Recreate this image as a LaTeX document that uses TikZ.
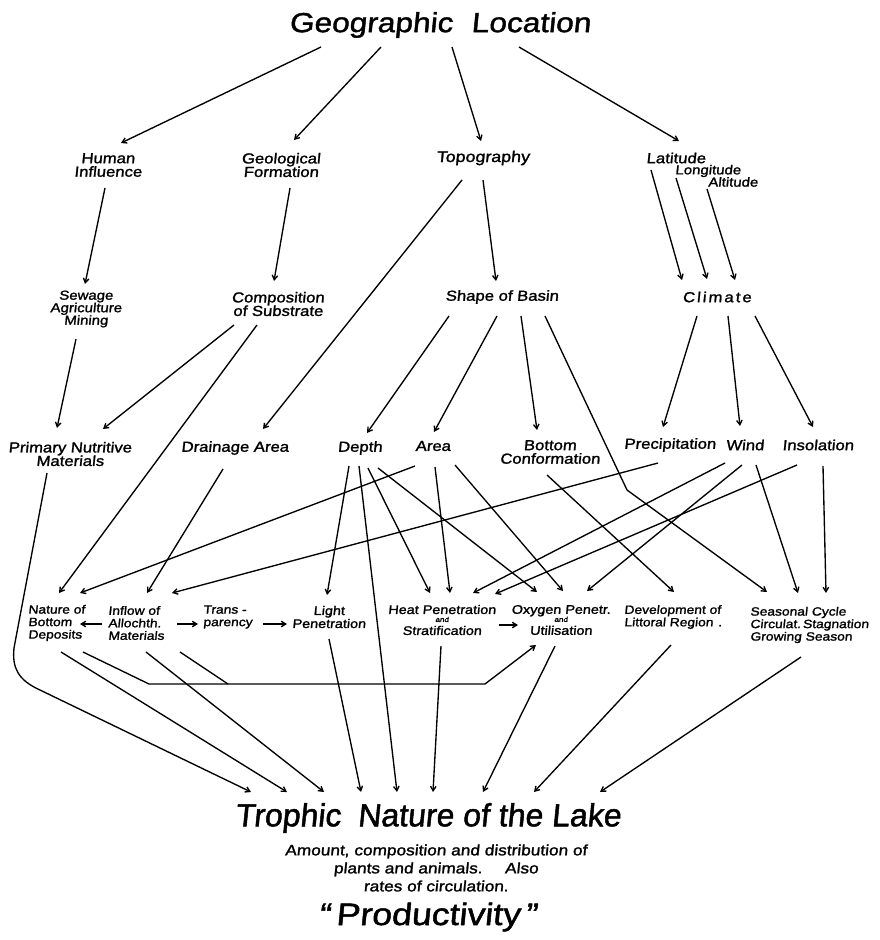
\documentclass[tikz,border=0pt]{standalone}
\usepackage{fontspec}
\setmainfont{Liberation Sans}
\newfontfamily\hand[FakeStretch=1.15,FakeSlant=0.1,FakeBold=1.5]{Liberation Sans}
\newfontfamily\handn[FakeSlant=0.1,FakeBold=1.5]{Liberation Sans}
\newfontfamily\handsp[FakeStretch=1.15,FakeSlant=0.1,FakeBold=1.5,LetterSpace=14]{Liberation Sans}
\usetikzlibrary{arrows.meta}
\lineskiplimit=-20pt
\begin{document}
\begin{tikzpicture}[x=1pt,y=-1pt,
  lbl/.style={font=\hand\fontsize{14.5}{13.5}\selectfont, inner sep=0pt, align=center},
  lbls/.style={font=\hand\fontsize{13}{12.5}\selectfont, inner sep=0pt, align=center},
  lblr/.style={font=\hand\fontsize{12.5}{13}\selectfont, inner sep=0pt, align=center},
  sm/.style={font=\hand\fontsize{12}{12.5}\selectfont, inner sep=0pt, align=left, anchor=west},
  arr/.style={-{Straight Barb[length=4.5pt,width=5.5pt]}, line width=1.35pt},
  ln/.style={line width=1.35pt}]
\useasboundingbox[fill=white] (0,0) rectangle (879,940);

% ---------- nodes ----------
\node[font=\hand\fontsize{27.5}{30}\selectfont, inner sep=0pt] (geo) at (440,25) {Geographic\hspace{0.35em} Location};

\node[lbl] (human) at (108,165) {Human\\Influence};
\node[lbl] (geol) at (281,165) {Geological\\Formation};
\node[lbl, font=\hand\fontsize{15.5}{13.5}\selectfont] (topo) at (483,158) {Topography};
\node[lbl] (lat) at (676,158) {Latitude};
\node[lbls] (long) at (708,171) {Longitude};
\node[lbls] (alt) at (733,182) {Altitude};

\node[lbls] (sewage) at (86,309) {Sewage\\Agriculture\\Mining};
\node[lbl] (comp) at (278,304) {Composition\\of Substrate};
\node[lbl] (shape) at (502,297) {Shape of Basin};
\node[lbl, font=\handsp\fontsize{14.5}{13.5}\selectfont] (climate) at (717,297) {Climate};

\node[lbl] (primary) at (70,454) {Primary Nutritive\\Materials};
\node[lbl] (drain) at (235,448) {Drainage Area};
\node[lbl] (depth) at (360,448) {Depth};
\node[lbl] (area) at (433,446) {Area};
\node[lbl] (bottomc) at (550,452) {Bottom\\Conformation};
\node[lbl] (precip) at (670,445) {Precipitation};
\node[lbl] (wind) at (745,445) {Wind};
\node[lbl] (insol) at (818,445) {Insolation};

\node[sm] (nature) at (28,623) {Nature of\\Bottom\\Deposits};
\node[sm] (inflow) at (108,623) {Inflow of\\Allochth.\\Materials};
\node[sm] (trans) at (203,617) {Trans -\\parency};
\node[lblr] (light) at (329,617) {Light\\Penetration};
\node[lblr] (heat) at (442,620) {Heat Penetration\\[-5pt]{\fontsize{7}{7}\selectfont and}\\Stratification};
\node[lblr] (oxy) at (561,620) {Oxygen Penetr.\\[-5pt]{\fontsize{7}{7}\selectfont and}\\Utilisation};
\node[sm] (devel) at (624,617) {Development of\\Littoral Region\hspace{5pt}.};
\node[sm] (seasonal) at (750,625) {Seasonal Cycle\\Circulat.\,Stagnation\\Growing Season};

\node[font=\handn\fontsize{32}{34}\selectfont, inner sep=0pt] (trophic) at (428,818) {Trophic\hspace{0.25em} Nature of the Lake};
\node[font=\hand\fontsize{15}{18}\selectfont, inner sep=0pt, align=center] (amount) at (436,868) {Amount, composition and distribution of\\plants and animals.\hspace{1.5em}Also\\rates of circulation.};
\node[font=\hand\fontsize{31}{33}\selectfont, inner sep=0pt] (prod) at (428,917) {“\,Productivity\,”};

% helper coordinates
\coordinate (busL) at (149,684);
\coordinate (busM) at (228,684);
\coordinate (busR) at (485,684);
\coordinate (pb1) at (14,648);
\coordinate (pb2) at (40,690);
\coordinate (kink) at (627,490);

% ---------- connectors ----------
% from Geographic Location
\draw[arr] ([shift={(-119,22)}]geo.center) -- ([shift={(13,-22)}]human.center);
\draw[arr] ([shift={(-59,22)}]geo.center) -- ([shift={(13,-25)}]geol.center);
\draw[arr] ([shift={(12,22)}]geo.center) -- ([shift={(-2,-17)}]topo.center);
\draw[arr] ([shift={(79,22)}]geo.center) -- ([shift={(3,-17)}]lat.center);

% row 2 -> row 3/4
\draw[arr] ([shift={(-3,23)}]human.center) -- ([shift={(-1,-25)}]sewage.center);
\draw[arr] ([shift={(9,23)}]geol.center) -- ([shift={(-4,-23)}]comp.center);
\draw[arr] ([shift={(-21,22)}]topo.center) -- ([shift={(28,-19)}]drain.center);
\draw[arr] ([shift={(0,22)}]topo.center) -- ([shift={(-6,-16)}]shape.center);
\draw[arr] ([shift={(-25,12)}]lat.center) -- ([shift={(-35,-17)}]climate.center);
\draw[arr] ([shift={(-32,7)}]long.center) -- ([shift={(-10,-18)}]climate.center);
\draw[arr] ([shift={(-26,7)}]alt.center) -- ([shift={(18,-17)}]climate.center);

% row 3 -> row 4/5
\draw[arr] ([shift={(-10,30)}]sewage.center) -- ([shift={(-13,-26)}]primary.center);
\draw[arr] ([shift={(-44,21)}]comp.center) -- ([shift={(33,-25)}]primary.center);
\draw[arr] ([shift={(-21,21)}]comp.center) -- ([shift={(31,-30)}]nature.west);
\draw[arr] ([shift={(-53,19)}]shape.center) -- ([shift={(7,-15)}]depth.center);
\draw[arr] ([shift={(-5,19)}]shape.center) -- ([shift={(1,-14)}]area.center);
\draw[arr] ([shift={(19,19)}]shape.center) -- ([shift={(-13,-22)}]bottomc.center);
\draw[arr] ([shift={(43,19)}]shape.center) -- (kink) -- ([shift={(17,-33)}]seasonal.west);
\draw[arr] ([shift={(-20,19)}]climate.center) -- ([shift={(-7,-18)}]precip.center);
\draw[arr] ([shift={(11,19)}]climate.center) -- ([shift={(-5,-19)}]wind.center);
\draw[arr] ([shift={(38,19)}]climate.center) -- ([shift={(-5,-18)}]insol.center);

% row 4 -> row 5
\draw[arr] ([shift={(-18,20)}]area.center) -- ([shift={(52,-30)}]nature.west);
\draw[arr] ([shift={(-12,21)}]drain.center) -- ([shift={(39,-30)}]inflow.west);
\draw[arr] ([shift={(-12,18)}]precip.center) -- ([shift={(64,-30)}]inflow.west);
\draw[arr] ([shift={(-11,18)}]depth.center) -- ([shift={(-2,-22)}]light.center);
\draw[arr] ([shift={(8,20)}]depth.center) -- ([shift={(-12,-27)}]heat.center);
\draw[arr] ([shift={(18,20)}]depth.center) -- ([shift={(-24,-28)}]oxy.center);
\draw[arr] ([shift={(2,21)}]area.center) -- ([shift={(8,-27)}]heat.center);
\draw[arr] ([shift={(22,19)}]area.center) -- ([shift={(2,-29)}]oxy.center);
\draw[arr] ([shift={(-3,23)}]bottomc.center) -- ([shift={(50,-25)}]devel.west);
\draw[arr] ([shift={(-20,18)}]wind.center) -- ([shift={(31,-27)}]heat.center);
\draw[arr] ([shift={(-3,20)}]wind.center) -- ([shift={(26,-29)}]oxy.center);
\draw[arr] ([shift={(11,20)}]wind.center) -- ([shift={(48,-32)}]seasonal.west);
\draw[arr] ([shift={(-21,20)}]insol.center) -- ([shift={(53,-26)}]heat.center);
\draw[arr] ([shift={(5,21)}]insol.center) -- ([shift={(76,-32)}]seasonal.west);

% within row 5
\draw[arr] ([shift={(-6,1)}]inflow.west) -- ([shift={(52,1)}]nature.west);
\draw[arr] ([shift={(69,1)}]inflow.west) -- ([shift={(-5,7)}]trans.west);
\draw[arr] ([shift={(60,7)}]trans.west) -- ([shift={(-42,7)}]light.center);
\draw[arr] ([shift={(57,5)}]heat.center) -- ([shift={(-43,5)}]oxy.center);
\draw[arr] ([shift={(55,29)}]nature.west) -- (busL) -- (busR) -- ([shift={(-25,25)}]oxy.center);
\draw[ln] ([shift={(72,29)}]inflow.west) -- (busM);

% to Trophic Nature of the Lake
\draw[arr] ([shift={(-23,19)}]primary.center) -- (pb1) .. controls (12,668) and (18,680) .. (pb2) -- ([shift={(-177,-26)}]trophic.center);
\draw[arr] ([shift={(33,29)}]nature.west) -- ([shift={(-141,-26)}]trophic.center);
\draw[arr] ([shift={(38,29)}]inflow.west) -- ([shift={(-104,-26)}]trophic.center);
\draw[arr] ([shift={(0,22)}]light.center) -- ([shift={(-67,-26)}]trophic.center);
\draw[arr] ([shift={(-1,18)}]depth.center) -- ([shift={(-31,-26)}]trophic.center);
\draw[arr] ([shift={(-1,26)}]heat.center) -- ([shift={(5,-26)}]trophic.center);
\draw[arr] ([shift={(-6,26)}]oxy.center) -- ([shift={(55,-26)}]trophic.center);
\draw[arr] ([shift={(47,28)}]devel.west) -- ([shift={(106,-26)}]trophic.center);
\draw[arr] ([shift={(51,32)}]seasonal.west) -- ([shift={(172,-26)}]trophic.center);
\end{tikzpicture}
\end{document}
